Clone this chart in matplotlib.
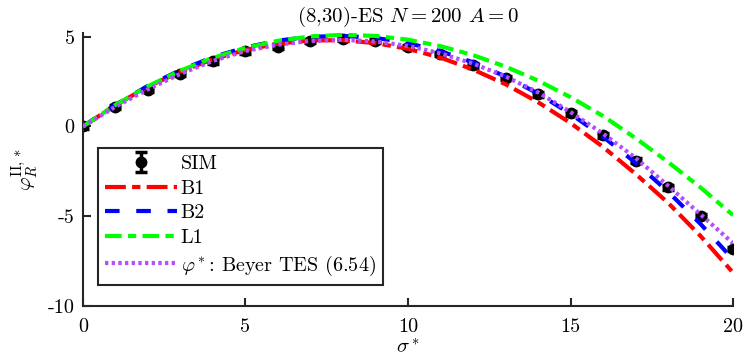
import numpy as np
import matplotlib
matplotlib.use("Agg")
import matplotlib.pyplot as plt

plt.rcParams['font.family'] = 'serif'
plt.rcParams['font.serif'] = ['cmr10', 'DejaVu Serif']
plt.rcParams['mathtext.fontset'] = 'cm'
plt.rcParams['axes.unicode_minus'] = False
plt.rcParams['axes.formatter.use_mathtext'] = True

# data
sigma = list(range(21))
sim = [0, 1.07, 2.04, 2.93, 3.62, 4.18, 4.45, 4.75, 4.85, 4.75, 4.42,
       4.02, 3.40, 2.68, 1.78, 0.72, -0.50, -1.90, -3.40, -5.00, -6.83]
sim_err = [0.12] * 21
b1 = [0, 1.19, 2.21, 3.06, 3.74, 4.26, 4.61, 4.79, 4.80, 4.64, 4.32,
      3.83, 3.17, 2.35, 1.35, 0.19, -1.14, -2.64, -4.25, -6.10, -8.14]
b2 = [0, 1.21, 2.26, 3.14, 3.86, 4.40, 4.78, 4.99, 5.04, 4.93, 4.64,
      4.19, 3.57, 2.78, 1.83, 0.70, -0.57, -2.02, -3.63, -5.43, -7.40]
l1 = [0, 1.20, 2.24, 3.11, 3.82, 4.37, 4.77, 5.01, 5.10, 5.04, 4.83,
      4.47, 3.97, 3.33, 2.55, 1.63, 0.58, -0.65, -1.98, -3.40, -4.94]
tes = [0, 1.10, 2.07, 2.93, 3.65, 4.20, 4.55, 4.76, 4.82, 4.73, 4.48,
       4.07, 3.50, 2.78, 1.90, 0.80, -0.40, -1.75, -3.30, -4.90, -6.50]

fig = plt.figure(figsize=(7.45, 3.63), dpi=100)
ax = fig.add_axes([0.1114, 0.157, 0.8725, 0.752])

h_sim = ax.errorbar(sigma, sim, yerr=sim_err, fmt='o', color='black', ms=7.5,
                    elinewidth=2.5, capsize=4, capthick=2.5, label='SIM', zorder=2)
h_b1, = ax.plot(sigma, b1, color='#ff0000', lw=3, dashes=(5, 1.5, 2, 1.5), label='B1', zorder=3)
h_b2, = ax.plot(sigma, b2, color='#0000ff', lw=3, dashes=(3.5, 4), label='B2', zorder=3)
h_l1, = ax.plot(sigma, l1, color='#00ff00', lw=3, dashes=(4, 1.5, 2, 1.5), label='L1', zorder=3)
h_tes, = ax.plot(sigma, tes, color='#b150ff', lw=3, dashes=(0.8, 0.8),
                 label=r'$\varphi^*$: Beyer TES (6.54)', zorder=4)

ax.set_xlim(0, 20)
ax.set_ylim(-10, 5.2)
ax.set_xticks([0, 5, 10, 15, 20])
ax.set_yticks([-10, -5, 0, 5])
ax.set_yticklabels(['-10', '-5', '0', '5'])
ax.set_xticklabels(['0', '5', '10', '15', '20'])

for s in ['top', 'right']:
    ax.spines[s].set_visible(False)
for s in ['left', 'bottom']:
    ax.spines[s].set_linewidth(1.5)
    ax.spines[s].set_color('#262626')
ax.tick_params(direction='in', length=6, width=1.5, color='#262626',
               labelsize=14.5, pad=6)
ax.tick_params(axis='x', pad=9)

ax.set_title(r'(8,30)-ES $N=200$ $A=0$', fontsize=15, pad=8)
ax.set_xlabel(r'$\sigma^*$', fontsize=15, labelpad=2)
ax.set_ylabel(r'$\varphi_R^{\mathrm{II},*}$', fontsize=15, labelpad=5)

leg = ax.legend(handles=[h_sim, h_b1, h_b2, h_l1, h_tes],
                loc='upper left', bbox_to_anchor=(0.023, 0.578), fontsize=14.5,
                handlelength=3.6, handletextpad=0.15, labelspacing=0.32,
                borderpad=0.35, borderaxespad=0, fancybox=False, framealpha=1,
                edgecolor='#262626')
leg.get_frame().set_linewidth(1.5)

fig.savefig('out.png', dpi=100)
